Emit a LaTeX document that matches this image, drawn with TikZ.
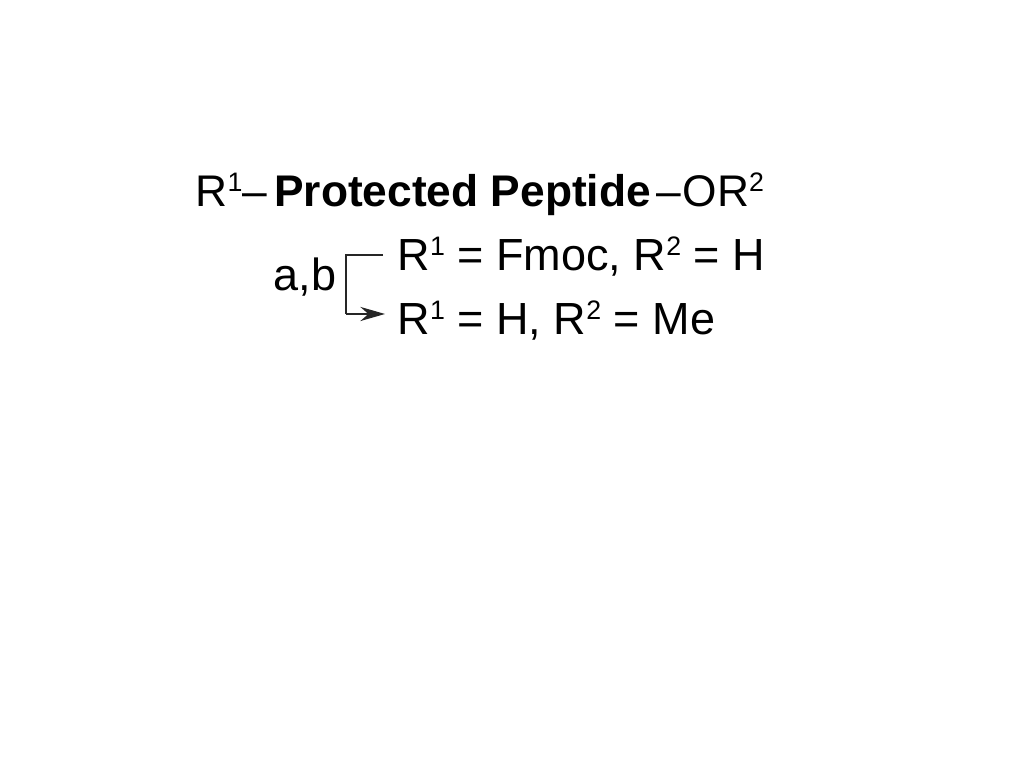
\documentclass[tikz,border=0pt]{standalone}
\usepackage{fontspec}
\usepackage{graphicx}
\setmainfont{Liberation Sans}
\usetikzlibrary{positioning,calc,arrows.meta}
\newcommand{\supnum}[1]{\raisebox{4.3pt}{\fontsize{7.6}{8}\selectfont #1}}

\begin{document}
\begin{tikzpicture}[x=0.01cm,y=-0.01cm,
    chem/.style={anchor=base west, inner sep=0pt, font=\fontsize{12.8}{14}\selectfont},
    bracket/.style={line width=0.7pt, black!85}]
        \useasboundingbox (0,0) rectangle (1024,768);
        % compounds
        \node[chem, font=\fontsize{12.6}{14}\selectfont] (peptide) at (195,207) {R\supnum{1}--\hspace{2pt}\textbf{Protected Peptide}\hspace{1.5pt}--\hspace{0.5pt}OR\supnum{2}};
        \node[chem] (fmoc) at (397,271) {R\supnum{1} = Fmoc, R\supnum{2} = H};
        \node[chem] (ester) at (397,335) {R\supnum{1} = H, R\supnum{2} = Me};

        % conditions
        \node[chem, anchor=base east] (cond) at (337,291) {a,b};

        % bracket
        \coordinate (brtop) at (346,255);
        \coordinate (brbot) at (346,314);
        \coordinate (brend) at (383,255);
        \draw[bracket] (brend) -- (brtop) -- (brbot);
        \draw[bracket, -{Stealth[length=7pt,width=4pt]}, shorten >=3.4pt] (brbot) -- (brbot -| ester.west);
\end{tikzpicture}
\end{document}
